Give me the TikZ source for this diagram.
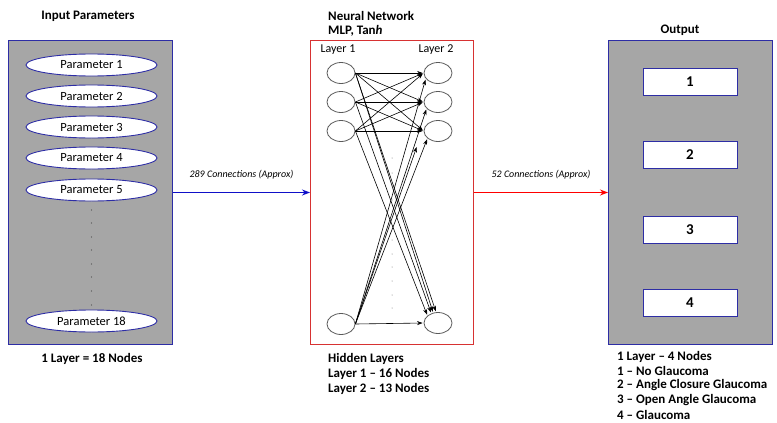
\documentclass[tikz,border=0pt]{standalone}
\usepackage{fontspec}
\setmainfont{Carlito}
\usetikzlibrary{arrows.meta,shapes.geometric}
\definecolor{boxblue}{RGB}{45,45,165}
\definecolor{panelgray}{RGB}{166,166,166}
\definecolor{netred}{RGB}{215,50,50}
\definecolor{arrblue}{RGB}{15,15,200}
\definecolor{neurongray}{RGB}{90,90,90}
\begin{document}
\begin{tikzpicture}[x=1pt,y=-1pt,
  panel/.style={draw=boxblue,fill=panelgray,line width=1pt,rectangle,inner sep=0pt,anchor=north west},
  netbox/.style={draw=netred,fill=white,line width=1pt,rectangle,inner sep=0pt,anchor=north west},
  param/.style={ellipse,draw=boxblue,fill=white,line width=0.9pt,minimum width=131pt,minimum height=22pt,inner sep=0pt,font=\fontsize{12.5}{14}\selectfont},
  neuron/.style={ellipse,draw=neurongray,fill=white,line width=0.8pt,minimum width=28pt,minimum height=21pt,inner sep=0pt},
  outbox/.style={rectangle,draw=boxblue,fill=white,line width=0.9pt,minimum width=94pt,minimum height=27pt,inner sep=0pt,font=\bfseries\fontsize{15}{17}\selectfont},
  title/.style={font=\bfseries\fontsize{13}{15}\selectfont,inner sep=0pt},
  info/.style={font=\bfseries\fontsize{13}{15}\selectfont,inner sep=0pt,anchor=west},
  layerlbl/.style={font=\fontsize{12}{14}\selectfont,inner sep=0pt},
  connlbl/.style={font=\itshape\fontsize{10}{12}\selectfont,inner sep=0pt,text=black},
  conn/.style={-{Stealth[length=5.5pt,width=4pt]},black,line width=0.6pt,shorten >=1pt},
  dotmark/.style={fill=black!70,circle,inner sep=0pt,minimum size=1.2pt}
]
\useasboundingbox (0,0) rectangle (777,423);

% ---------- Input panel ----------
\node[title] (tin) at (88,16) {Input Parameters};
\node[panel,minimum width=164pt,minimum height=304pt] (inbox) at (8,40) {};
\node[param] (p1) at (91.5,65) {Parameter 1};
\node[param] (p2) at (91.5,96) {Parameter 2};
\node[param] (p3) at (91.5,127) {Parameter 3};
\node[param] (p4) at (91.5,158) {Parameter 4};
\node[param] (p5) at (91.5,190) {Parameter 5};
\node[param] (p18) at (91.5,321) {Parameter 18};
\foreach \yy [count=\i] in {210,223,237,250,264,277,291,305}
  \node[dotmark] (ind\i) at (91.5,\yy) {};
\node[title] (inlbl) at (92,359) {1 Layer = 18 Nodes};

% ---------- Neural network panel ----------
\node[title,anchor=west] (tnn1) at (328,16) {Neural Network};
\node[title,anchor=west] (tnn2) at (328,31) {MLP, Tan\textit{h}};
\node[netbox,minimum width=163pt,minimum height=304pt] (net) at (310,40) {};
\node[layerlbl] (l1) at (338,50) {Layer 1};
\node[layerlbl] (l2) at (436,50) {Layer 2};

\node[neuron] (a1) at (341,73) {};
\node[neuron] (a2) at (341,102) {};
\node[neuron] (a3) at (341,131) {};
\node[neuron] (a4) at (341,324) {};
\node[neuron] (b1) at (438,73) {};
\node[neuron] (b2) at (438,102) {};
\node[neuron] (b3) at (438,131) {};
\node[neuron] (b4) at (438,323) {};
\coordinate (bx) at (417,146);

\foreach \yy [count=\i] in {158,173,186,200,240,254,267,281,295,308}
  \node[dotmark,minimum size=1pt,fill=black!55] (nd\i) at (392,\yy) {};

\foreach \s in {a1,a2,a3}
  \foreach \t in {b1,b2,b3}
    \draw[conn] (\s.east) -- (\t.west);

\draw[conn] (a1.east) -- (b4.100);
\draw[conn] (a1.east) -- (b4.115);
\draw[conn] (a2.east) -- (b4.125);
\draw[conn] (a3.east) -- (b4.145);

\draw[conn] (a4.east) -- (b1.205);
\draw[conn] (a4.east) -- (b2.210);
\draw[conn] (a4.east) -- (b3.215);
\draw[conn] (a4.east) -- (bx);
\draw[conn] (a4.east) -- (b4.west);

\node[title,anchor=west] (h1) at (328,359) {Hidden Layers};
\node[info] (h2) at (328,374) {Layer 1 -- 16 Nodes};
\node[info] (h3) at (328,389) {Layer 2 -- 13 Nodes};

% ---------- Output panel ----------
\node[title] (tout) at (680,30) {Output};
\node[panel,minimum width=164pt,minimum height=304pt] (outp) at (608,40) {};
\node[outbox] (o1) at (690,81.5) {1};
\node[outbox] (o2) at (690,155) {2};
\node[outbox] (o3) at (690,229.5) {3};
\node[outbox] (o4) at (690,303) {4};
\node[info] (r1) at (617,356.5) {1 Layer -- 4 Nodes};
\node[info] (r2) at (617,371) {1 -- No Glaucoma};
\node[info] (r3) at (617,385.5) {2 -- Angle Closure Glaucoma};
\node[info] (r4) at (617,400) {3 -- Open Angle Glaucoma};
\node[info] (r5) at (617,414.5) {4 -- Glaucoma};

% ---------- Connectors between panels ----------
\draw[arrblue,line width=1.6pt,-{Stealth[length=8pt,width=6pt]}] (inbox.east) -- (net.west)
  node[connlbl,midway,above=13pt] {289 Connections (Approx)};
\draw[red,line width=1.3pt,-{Stealth[length=8pt,width=6pt]}] (net.east) -- (outp.west)
  node[connlbl,midway,above=13pt] {52 Connections (Approx)};
\end{tikzpicture}
\end{document}
